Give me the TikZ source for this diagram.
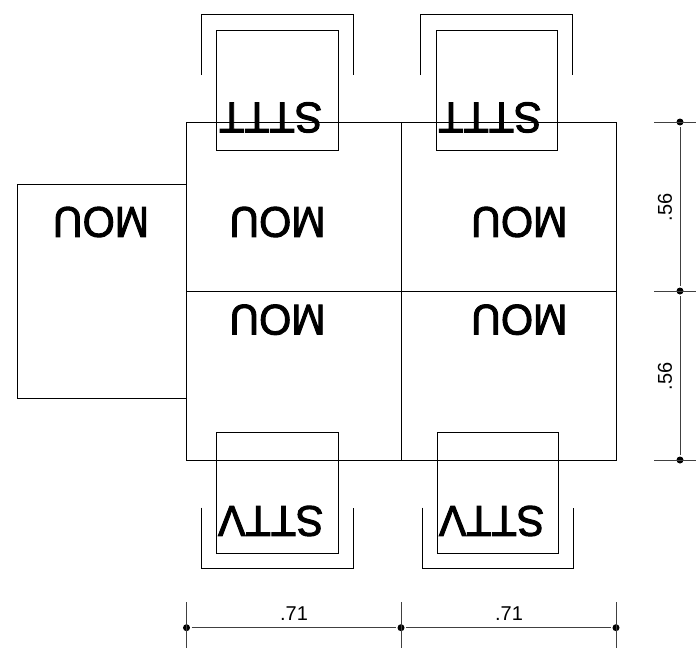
\documentclass[tikz,border=0pt]{standalone}
\usepackage{fontspec}
\setmainfont{Liberation Sans}
\newfontfamily\tagfont[FakeBold=2.2,FakeStretch=0.96]{Liberation Sans}
\usetikzlibrary{shapes.geometric,arrows}
\tikzstyle{wall} = [draw=black, line width=0.9pt]
\tikzstyle{bigtag} = [inner sep=0pt, rotate=180, font=\tagfont\fontsize{43}{43}\selectfont]
\tikzstyle{dimtag} = [inner sep=0pt, font=\fontsize{20}{20}\selectfont]
\tikzstyle{dimdot} = [circle, fill=black, inner sep=0pt, minimum size=7pt, outer sep=1.5pt]
\tikzstyle{dimline} = [draw=black!75, line width=1pt]

\begin{document}
\begin{tikzpicture}[x=1pt,y=-1pt]
\useasboundingbox (0,0) rectangle (696,648);

% rooms
\draw [wall] (186.5,122) rectangle (401,291);
\draw [wall] (401,122) rectangle (616,291);
\draw [wall] (186.5,291) rectangle (401,460);
\draw [wall] (401,291) rectangle (616,460);
\draw [wall] (186.5,184) -- (17,184) -- (17,398) -- (186.5,398);

% top stalls
\draw [wall] (216.7,30) rectangle (338,150.5);
\draw [wall] (436,30) rectangle (557,150.5);
\draw [wall] (201.7,75) -- (201.7,14.5) -- (353,14.5) -- (353,75);
\draw [wall] (420.7,75) -- (420.7,14.5) -- (572,14.5) -- (572,75);

% bottom stalls
\draw [wall] (216.7,432.3) rectangle (338,553);
\draw [wall] (437.3,432.3) rectangle (558.5,553);
\draw [wall] (201.7,507.7) -- (201.7,568) -- (353,568) -- (353,507.7);
\draw [wall] (422.3,507.7) -- (422.3,568) -- (573.7,568) -- (573.7,507.7);

% labels
\node (mou1) [bigtag] at (101,222) {MOU};
\node (mou2) [bigtag] at (277.5,222) {MOU};
\node (mou3) [bigtag] at (519.3,222) {MOU};
\node (mou4) [bigtag] at (277.5,319.7) {MOU};
\node (mou5) [bigtag] at (519.3,319.7) {MOU};
\node (sttt1) [bigtag] at (270.8,117.5) {STTT};
\node (sttt2) [bigtag] at (490,117.5) {STTT};
\node (sttv1) [bigtag] at (270.8,521) {STTV};
\node (sttv2) [bigtag] at (491.7,521) {STTV};

% bottom dimension
\node (dimA) [dimdot] at (186.5,627.7) {};
\node (dimB) [dimdot] at (401,627.7) {};
\node (dimC) [dimdot] at (616,627.7) {};
\draw [dimline] (dimA) -- (dimB);
\draw [dimline] (dimB) -- (dimC);
\draw [dimline] ([yshift=25.7pt]dimA.center) -- ([yshift=-20.3pt]dimA.center);
\draw [dimline] ([yshift=25.7pt]dimB.center) -- ([yshift=-20.3pt]dimB.center);
\draw [dimline] ([yshift=25.7pt]dimC.center) -- ([yshift=-20.3pt]dimC.center);
\node (widthA) [dimtag] at (294,614) {.71};
\node (widthB) [dimtag] at (509,614) {.71};

% right dimension
\node (dimD) [dimdot] at (680,122) {};
\node (dimE) [dimdot] at (680,291) {};
\node (dimF) [dimdot] at (680,460) {};
\draw [dimline] (dimD) -- (dimE);
\draw [dimline] (dimE) -- (dimF);
\draw [dimline] ([xshift=-26pt]dimD.center) -- ([xshift=16pt]dimD.center);
\draw [dimline] ([xshift=-26pt]dimE.center) -- ([xshift=16pt]dimE.center);
\draw [dimline] ([xshift=-26pt]dimF.center) -- ([xshift=16pt]dimF.center);
\node (depthA) [dimtag, rotate=90] at (665,207.5) {.56};
\node (depthB) [dimtag, rotate=90] at (665,376.5) {.56};
\end{tikzpicture}
\end{document}
